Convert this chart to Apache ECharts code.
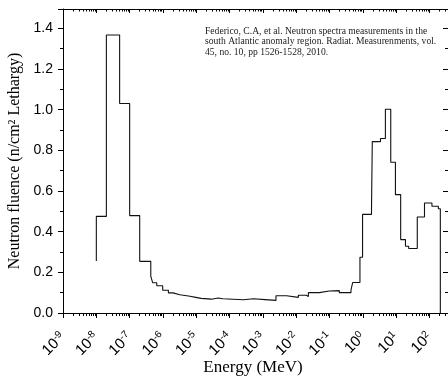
<!DOCTYPE html>
<html><head><meta charset="utf-8">
<script src="https://cdn.jsdelivr.net/npm/echarts@6/dist/echarts.min.js"></script>
<style>html,body{margin:0;padding:0;background:#fff}#c{width:448px;height:377px}</style>
</head><body><div id="c"></div>
<script>
// Left edges of each step bin (MeV); last entry is the end of the spectrum
const binEdgesMeV = [1e-8, 1e-8, 2e-8, 5e-8, 1e-7, 2e-7, 4.3e-7, 4.9e-7, 6.5e-7, 9.8e-7,
  1.45e-6, 2.0e-6, 3.2e-6, 6.5e-6, 9.6e-6, 1.4e-5, 2.8e-5, 4.6e-5, 6.2e-5, 2.6e-4,
  5.2e-4, 1.15e-3, 2.45e-3, 5.1e-3, 1.15e-2, 2.0e-2, 2.3e-2, 4.9e-2, 9.8e-2, 0.107,
  0.195, 0.436, 0.49, 0.81, 0.97, 1.8, 1.9, 3.35, 4.7, 6.8,
  9.4, 13.5, 18.8, 23.5, 42.5, 70, 117, 182, 209];
// Fluence level of each bin (n/cm² lethargy)
const fluence = [0.256, 0.475, 1.367, 1.030, 0.479, 0.254, 0.180, 0.149, 0.134, 0.112,
  0.099, 0.090, 0.082, 0.077, 0.072, 0.068, 0.074, 0.070, 0.065, 0.070,
  0.066, 0.062, 0.085, 0.077, 0.087, 0.081, 0.100, 0.108, 0.100, 0.110,
  0.100, 0.112, 0.150, 0.274, 0.485, 0.508, 0.843, 0.858, 1.002, 0.741,
  0.582, 0.361, 0.328, 0.317, 0.472, 0.541, 0.525, 0.513, 0];

// Decade exponents of the labelled x ticks
const xDecades = [-9, -8, -7, -6, -5, -4, -3, -2, -1, 0, 1, 2];
const xMinMeV = 1e-9;
const xMaxMeV = 355;
const yMin = 0;
const yMax = 1.495;
const yStep = 0.2;
const xTitle = 'Energy (MeV)';
const yTitle = 'Neutron fluence (n/cm\u00B2 Lethargy)';
const noteLines = [
  'Federico, C.A, et al. Neutron spectra measurements in the',
  'south Atlantic anomaly region. Radiat. Measurenments, vol.',
  '45, no. 10, pp 1526-1528, 2010.'
];

const seriesData = binEdgesMeV.map((e, i) => [e, fluence[i]]);
const majorTickValues = xDecades.map(d => Number('1e' + d));
const minorTickValues = [];
xDecades.forEach(d => {
  for (let k = 2; k <= 9; k++) {
    const v = Number(k + 'e' + d);
    if (v < xMaxMeV) minorTickValues.push(v);
  }
});

function xLabel(v) {
  const e = Math.log10(v);
  const r = Math.round(e);
  if (Math.abs(e - r) > 0.01) return '';
  return '{b|10}{s|' + r + '}';
}
function yLabel(v) {
  const k = v / yStep;
  if (Math.abs(k - Math.round(k)) > 1e-6) return '';
  return v.toFixed(1);
}

const black = '#000';
const sans = 'Liberation Sans';
const serif = 'Liberation Serif';

function logAxis(position, opts) {
  return Object.assign({
    type: 'log', logBase: 10, min: xMinMeV, max: xMaxMeV, position: position,
    axisLine: {show: false},
    splitLine: {show: false}, minorSplitLine: {show: false},
    minorTick: {show: false},
    axisLabel: {show: false}
  }, opts);
}

const chart = echarts.init(document.getElementById('c'), null, {renderer: 'canvas'});
chart.setOption({
  animation: false,
  backgroundColor: '#fff',
  grid: {left: 63, right: 0, top: 9, bottom: 64, containLabel: false, outerBoundsMode: 'none'},
  xAxis: [
    logAxis('bottom', {
      axisLine: {show: true, lineStyle: {color: black, width: 1}},
      axisTick: {show: true, length: 5, customValues: majorTickValues, lineStyle: {color: black}},
      axisLabel: {
        show: true, rotate: 45, interval: 0, margin: 22, formatter: xLabel, hideOverlap: false,
        customValues: majorTickValues,
        rich: {
          b: {fontSize: 15, fontFamily: sans, color: black, lineHeight: 17},
          s: {fontSize: 10, fontFamily: sans, color: black, verticalAlign: 'top', lineHeight: 11}
        }
      }
    }),
    logAxis('bottom', {
      axisTick: {show: true, length: 3, customValues: minorTickValues, lineStyle: {color: black}}
    }),
    logAxis('top', {
      axisLine: {show: true, lineStyle: {color: black, width: 1}},
      axisTick: {show: true, inside: true, length: 4, customValues: majorTickValues, lineStyle: {color: black}}
    }),
    logAxis('top', {
      axisTick: {show: true, inside: true, length: 2.5, customValues: minorTickValues, lineStyle: {color: black}}
    })
  ],
  yAxis: [{
    type: 'value', min: yMin, max: yMax, interval: yStep, position: 'left',
    axisLine: {show: true, lineStyle: {color: black, width: 1}},
    axisTick: {show: true, length: 5, lineStyle: {color: black}},
    minorTick: {show: true, splitNumber: 2, length: 3, lineStyle: {color: black}},
    splitLine: {show: false}, minorSplitLine: {show: false},
    axisLabel: {formatter: yLabel, fontSize: 14, fontFamily: sans, color: black, margin: 10},
    name: yTitle, nameLocation: 'middle', nameGap: 38,
    nameTextStyle: {fontFamily: serif, fontSize: 16, color: black}
  }, {
    type: 'value', min: yMin, max: yMax, interval: yStep, position: 'right',
    axisLine: {show: false},
    axisTick: {show: true, inside: true, length: 5, lineStyle: {color: black}},
    minorTick: {show: true, splitNumber: 2, length: 3, lineStyle: {color: black}},
    splitLine: {show: false}, minorSplitLine: {show: false},
    axisLabel: {show: false}
  }],
  series: [{
    type: 'line', step: 'end', data: seriesData, xAxisIndex: 0, yAxisIndex: 0,
    showSymbol: false, symbol: 'none', silent: true,
    lineStyle: {color: '#111', width: 1.1}
  }],
  graphic: [{
    type: 'text', left: 205, top: 26, silent: true,
    style: {text: noteLines.join('\n'), fontFamily: serif, fontSize: 9.6, lineHeight: 10.5, fill: '#222'}
  }, {
    type: 'text', x: 253, y: 368, silent: true,
    style: {text: xTitle, fontFamily: serif, fontSize: 17, fill: black, align: 'center', verticalAlign: 'middle'}
  }]
});
</script></body></html>
